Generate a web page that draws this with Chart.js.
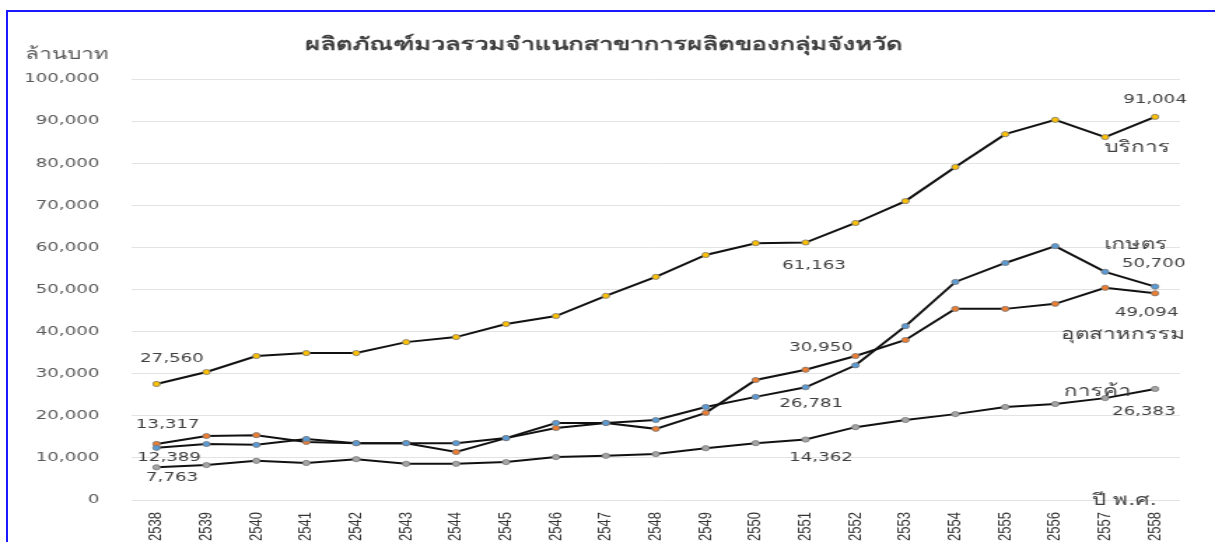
<!DOCTYPE html>
<html>
<head>
<meta charset="utf-8">
<script src="https://cdn.jsdelivr.net/npm/chart.js@4.4.1/dist/chart.umd.min.js"></script>
<style>
  html, body { margin: 0; padding: 0; background: #fff; overflow: hidden; }
  #frame { position: absolute; left: 6px; top: 10px; width: 1400px; height: 700px; border: 2px solid #1a1aff; }
  #chart { position: absolute; left: 0; top: 0; }
</style>
</head>
<body>
<div id="frame"></div>
<!-- the source picture is stretched sideways, so the canvas is drawn narrow and widened by css -->
<canvas id="chart" width="868" height="542" style="width:1215px;height:542px"></canvas>
<script>
// ปี พ.ศ.
const years = ["2538","2539","2540","2541","2542","2543","2544","2545","2546","2547","2548",
               "2549","2550","2551","2552","2553","2554","2555","2556","2557","2558"];

// ล้านบาท
const services = [27560, 30400, 34200, 34900, 34900, 37500, 38700, 41800, 43700, 48500, 53000,
                  58200, 61000, 61163, 65800, 71000, 79100, 86900, 90300, 86200, 91004];
const agriculture = [12389, 13300, 13100, 14500, 13500, 13500, 13500, 14700, 18300, 18300, 19000,
                     22100, 24500, 26781, 32000, 41300, 51800, 56300, 60300, 54200, 50700];
const industry = [13317, 15200, 15400, 13800, 13500, 13500, 11400, 14700, 17100, 18300, 16900,
                  20700, 28500, 30950, 34200, 38000, 45400, 45400, 46600, 50400, 49094];
const trade = [7763, 8300, 9300, 8800, 9700, 8600, 8600, 9000, 10200, 10500, 10900,
               12300, 13500, 14362, 17300, 19000, 20400, 22100, 22800, 24200, 26383];

const yTicks = [0, 10000, 20000, 30000, 40000, 50000, 60000, 70000, 80000, 90000, 100000];

const chartTitle = "ผลิตภัณฑ์มวลรวมจำแนกสาขาการผลิตของกลุ่มจังหวัด";
const unitLabel = "ล้านบาท";
const xAxisLabel = "ปี พ.ศ.";

// ป้ายบนจุด: [dataset, index, text, dx, dy]
const pointLabels = [
  [0, 0, "27,560", 11, -25],
  [2, 0, "13,317", 8, -19],
  [1, 0, "12,389", 9, 10],
  [3, 0, "7,763", 11, 10],
  [0, 13, "61,163", 6, 23],
  [2, 13, "30,950", 11, -22],
  [1, 13, "26,781", 4, 16],
  [3, 13, "14,362", 11, 18],
  [0, 20, "91,004", 0, -17],
  [0, 20, "บริการ", -13, 31],
  [1, 20, "เกษตร", -14, -42],
  [1, 20, "50,700", -1, -23],
  [2, 20, "49,094", -6, 19],
  [2, 20, "อุตสาหกรรม", -23, 42],
  [3, 20, "การค้า", -41, 3],
  [3, 20, "26,383", -8, 23]
];

const textFont = "'DejaVu Sans', Tahoma, sans-serif";
const isThai = s => /[\u0E00-\u0E7F]/.test(s);

const labelsPlugin = {
  id: "labels",
  afterDatasetsDraw(chart) {
    const ctx = chart.ctx;
    const area = chart.chartArea;
    ctx.save();
    ctx.textAlign = "center";
    ctx.textBaseline = "middle";
    ctx.fillStyle = "#404040";
    pointLabels.forEach(function (l) {
      const pt = chart.getDatasetMeta(l[0]).data[l[1]];
      ctx.font = (isThai(l[2]) ? "16px " : "13px ") + textFont;
      ctx.fillText(l[2], pt.x + l[3], pt.y + l[4]);
    });

    // หน่วยแกน x
    ctx.font = "16px " + textFont;
    const lastX = chart.scales.x.getPixelForValue(years.length - 1);
    ctx.fillText(xAxisLabel, lastX - 22, area.bottom + 1);

    // หัวเรื่อง
    ctx.fillStyle = "#404040";
    ctx.font = "bold 18px " + textFont;
    ctx.fillText(chartTitle, 431, 45);

    // หน่วยแกน y
    ctx.fillStyle = "#595959";
    ctx.font = "16px " + textFont;
    ctx.fillText(unitLabel, 48, 55);
    ctx.restore();
  }
};

function makeSet(label, data, color) {
  return {
    label: label,
    data: data,
    borderColor: "#111",
    borderWidth: 2,
    pointRadius: 2.6,
    pointBackgroundColor: color,
    pointBorderColor: "#777",
    pointBorderWidth: 0.8,
    tension: 0
  };
}

const ctx = document.getElementById("chart").getContext("2d");
new Chart(ctx, {
  type: "line",
  data: {
    labels: years,
    datasets: [
      makeSet("บริการ", services, "#ffc000"),
      makeSet("เกษตร", agriculture, "#5b9bd5"),
      makeSet("อุตสาหกรรม", industry, "#ed7d31"),
      makeSet("การค้า", trade, "#a5a5a5")
    ]
  },
  options: {
    responsive: false,
    animation: false,
    layout: { padding: { left: 0, right: 25, top: 79, bottom: 0 } },
    plugins: {
      legend: { display: false },
      title: { display: false },
      tooltip: { enabled: false }
    },
    scales: {
      x: {
        offset: true,
        grid: { display: false, drawTicks: false },
        border: { display: false },
        ticks: {
          color: "#333",
          font: { family: "'Liberation Sans', Arial, sans-serif", size: 13 },
          minRotation: 90,
          maxRotation: 90,
          padding: 12,
          autoSkip: false
        },
        afterFit(scale) { scale.height = 42; }
      },
      y: {
        min: 0,
        max: 100000,
        afterBuildTicks(scale) { scale.ticks = yTicks.map(v => ({ value: v })); },
        grid: { color: "#e3e3e3", drawTicks: false },
        border: { display: false },
        ticks: {
          color: "#595959",
          font: { family: textFont, size: 13 },
          padding: 23,
          callback: v => v.toLocaleString("en-US")
        },
        afterFit(scale) { scale.width = 94; }
      }
    }
  },
  plugins: [labelsPlugin]
});
</script>
</body>
</html>
